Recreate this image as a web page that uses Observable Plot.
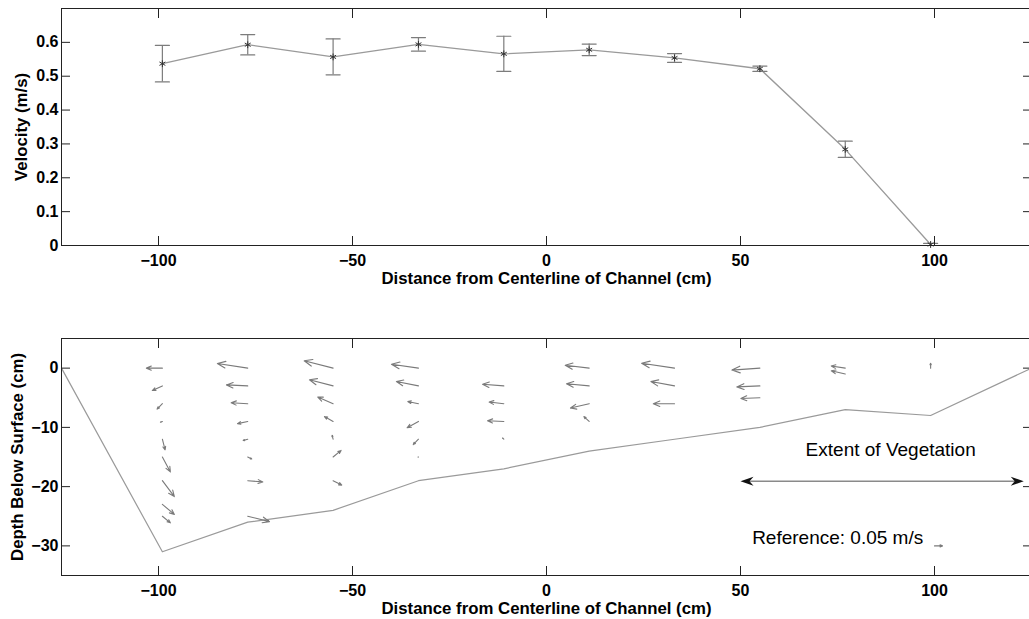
<!DOCTYPE html>
<html>
<head>
<meta charset="utf-8">
<script src="https://cdn.jsdelivr.net/npm/d3@7"></script>
<script src="https://cdn.jsdelivr.net/npm/@observablehq/plot@0.6"></script>
<style>
html, body { margin: 0; padding: 0; background: #fff; overflow: hidden; width: 1029px; height: 619px; }
#chart { width: 1031px; }
#chart svg { display: block; }
</style>
</head>
<body>
<div id="chart"></div>
<script>
// ---------- Top panel: depth-averaged velocity ----------
const stations = [-99, -77, -55, -33, -11, 11, 33, 55, 77, 99];
const velocity = [0.537, 0.593, 0.557, 0.594, 0.566, 0.578, 0.554, 0.522, 0.284, 0.003];
const velocityErr = [0.054, 0.030, 0.053, 0.020, 0.052, 0.017, 0.013, 0.008, 0.024, 0.003];

// ---------- Bottom panel: channel bed profile ----------
const bedX = [-125, -99, -77, -55, -33, -11, 11, 33, 55, 77, 99, 125];
const bedDepth = [0, -31, -26, -24, -19, -17, -14, -12, -10, -7, -8, 0];

// ---------- Bottom panel: velocity vectors (cm/s) ----------
const quiverX = [
  -99, -99, -99, -99, -99, -99, -99, -99, -99,
  -77, -77, -77, -77, -77, -77, -77, -77,
  -55, -55, -55, -55, -55, -55, -55,
  -33, -33, -33, -33, -33, -33,
  -11, -11, -11, -11,
  11, 11, 11, 11,
  33, 33, 33,
  55, 55, 55,
  77, 77,
  99
];
const quiverZ = [
  0, -3, -6, -9, -12, -15, -19, -23, -25,
  0, -3, -6, -9, -12, -15, -19, -25,
  0, -3, -6, -9, -12, -15, -19,
  0, -3, -6, -9, -12, -15,
  -3, -6, -9, -12,
  0, -3, -6, -9,
  0, -3, -6,
  0, -3, -5,
  0, -1,
  0
];
const quiverU = [
  -10, -6.3, -3.3, -1.2, 1.7, 5, 7.5, 7.5, 5,
  -19, -13.3, -10.4, -6.4, -2.9, 2.5, 9.4, 13.6,
  -18.1, -14.8, -9.6, -5.4, -0.6, 5, 5.4,
  -16.9, -13.8, -6.7, -7.1, -3.3, -0.3,
  -13.3, -9.2, -10.2, -0.8,
  -15, -14.2, -11.7, -3.3,
  -20.6, -14.8, -13.3,
  -17.5, -14.4, -11.9,
  -8.75, -8.75,
  0
];
const quiverW = [
  0, -1.9, -2.2, -0.3, -4.4, -6.1, -6.5, -4.1, -2.7,
  1.9, 0.4, 0.4, -0.9, -0.5, -0.8, -0.5, -2.2,
  3.0, 2.5, 2.7, 2.0, 1.6, 2.7, -1.8,
  1.6, 1.8, 0.9, -2.6, -2.2, 0,
  0.7, 0.7, 0.3, 0.5,
  1.2, 0.9, -1.8, 2.0,
  2.0, 1.8, 0,
  -0.8, -0.4, -0.3,
  0.9, 1.35,
  2.0
];
// Reference vector: 0.05 m/s = 5 cm/s
const refVector = {x: 100, z: -30, u: 5, w: 0};
const refLabel = "Reference: 0.05 m/s";
const quiverScale = 0.412; // cm of plot per cm/s

// ---------- Annotation ----------
const vegExtent = [50, 123];
const vegDepth = -19.1;
const vegLabel = "Extent of Vegetation";

// ---------- Axes ----------
const xTicks = [-100, -50, 0, 50, 100];
const velTicks = [0, 0.1, 0.2, 0.3, 0.4, 0.5, 0.6];
const depthTicks = [0, -10, -20, -30];
const xLabel = "Distance from Centerline of Channel (cm)";
const velLabel = "Velocity (m/s)";
const depthLabel = "Depth Below Surface (cm)";

const font = '"Liberation Sans", Arial, Helvetica, sans-serif';
const frameColor = "#222";

function boxAxes(yTicks, yFormat) {
  return [
    Plot.axisX({anchor: "bottom", ticks: xTicks, tickSize: 0, tickPadding: 9, label: null}),
    Plot.axisX({anchor: "bottom", ticks: xTicks, tickSize: -9, fill: "none", stroke: frameColor, label: null}),
    Plot.axisX({anchor: "top", ticks: xTicks, tickSize: -9, fill: "none", stroke: frameColor, label: null}),
    Plot.axisY({anchor: "left", ticks: yTicks, tickSize: 0, tickPadding: 3, tickFormat: yFormat, label: null}),
    Plot.axisY({anchor: "left", ticks: yTicks, tickSize: -9, fill: "none", stroke: frameColor, label: null}),
    Plot.axisY({anchor: "right", ticks: yTicks, tickSize: -9, fill: "none", stroke: frameColor, label: null}),
    Plot.frame({stroke: frameColor, strokeWidth: 1})
  ];
}

const svgStyle = {
  fontFamily: font, fontSize: "16px", fontWeight: "bold", color: "#000",
  background: "#fff", maxWidth: "none", overflow: "visible"
};

const velRows = stations.map((x, i) => ({
  x, v: velocity[i], lo: velocity[i] - velocityErr[i], hi: velocity[i] + velocityErr[i]
}));
const capShape = {draw(ctx, l) { ctx.moveTo(0, 0); ctx.lineTo(0, -l); }};

const topPlot = Plot.plot({
  width: 1031, height: 300,
  marginTop: 8, marginBottom: 55, marginLeft: 61, marginRight: 0,
  style: svgStyle,
  x: {domain: [-125, 125]},
  y: {domain: [0, 0.7]},
  marks: [
    Plot.line(velRows, {x: "x", y: "v", stroke: "#9a9a9a", strokeWidth: 1.3}),
    Plot.ruleX(velRows, {x: "x", y1: "lo", y2: "hi", stroke: "#7c7c7c", strokeWidth: 1.2}),
    Plot.vector(velRows, {x: "x", y: "lo", length: 14, rotate: 90, anchor: "middle", shape: capShape, stroke: "#7c7c7c", strokeWidth: 1.2}),
    Plot.vector(velRows, {x: "x", y: "hi", length: 14, rotate: 90, anchor: "middle", shape: capShape, stroke: "#7c7c7c", strokeWidth: 1.2}),
    Plot.dot(velRows, {x: "x", y: "v", symbol: "asterisk", r: 3.2, stroke: "#333", strokeWidth: 1}),
    ...boxAxes(velTicks, d => d === 0 ? "0" : d.toFixed(1)),
    Plot.text([xLabel], {frameAnchor: "bottom", dy: 33, textAnchor: "middle", lineAnchor: "middle", fontSize: 16.8}),
    Plot.text([velLabel], {frameAnchor: "left", rotate: -90, dx: -40, textAnchor: "middle", lineAnchor: "middle", fontSize: 16.8})
  ]
});

const bedRows = bedX.map((x, i) => ({x, z: bedDepth[i]}));
const quiverRows = quiverX.map((x, i) => ({x, z: quiverZ[i], u: quiverU[i], w: quiverW[i]}));
const tipX = d => d.x + d.u * quiverScale;
const tipZ = d => d.z + d.w * quiverScale;

const vHead = {draw(ctx) {
  ctx.moveTo(0, 0); ctx.lineTo(-13, -4.5); ctx.lineTo(-9, 0); ctx.lineTo(-13, 4.5); ctx.closePath();
}};

const bottomPlot = Plot.plot({
  width: 1031, height: 319,
  marginTop: 38, marginBottom: 44, marginLeft: 61, marginRight: 0,
  style: svgStyle,
  x: {domain: [-125, 125]},
  y: {domain: [-35, 5]},
  marks: [
    Plot.line(bedRows, {x: "x", y: "z", stroke: "#9a9a9a", strokeWidth: 1.2}),
    Plot.arrow(quiverRows, {x1: "x", y1: "z", x2: tipX, y2: tipZ, stroke: "#7a7a7a", strokeWidth: 1.1, headLength: 12, headAngle: 45}),
    Plot.arrow([refVector], {x1: "x", y1: "z", x2: tipX, y2: tipZ, stroke: "#7a7a7a", strokeWidth: 1.1, headLength: 12, headAngle: 45}),
    Plot.ruleY([vegDepth], {x1: vegExtent[0] + 1, x2: vegExtent[1] - 1, stroke: "#8a8a8a", strokeWidth: 1.4}),
    Plot.dot([vegExtent[1]], {x: d => d, y: vegDepth, symbol: vHead, fill: "#111", stroke: "none", rotate: 0}),
    Plot.dot([vegExtent[0]], {x: d => d, y: vegDepth, symbol: vHead, fill: "#111", stroke: "none", rotate: 180}),
    Plot.text([vegLabel], {x: 88.7, y: -13.75, fontSize: 19, fontWeight: "normal"}),
    Plot.text([refLabel], {x: 53, y: -28.6, textAnchor: "start", fontSize: 19, fontWeight: "normal"}),
    ...boxAxes(depthTicks),
    Plot.text([xLabel], {frameAnchor: "bottom", dy: 33, textAnchor: "middle", lineAnchor: "middle", fontSize: 16.8}),
    Plot.text([depthLabel], {frameAnchor: "left", rotate: -90, dx: -43.5, textAnchor: "middle", lineAnchor: "middle", fontSize: 16.8})
  ]
});

const chart = document.getElementById("chart");
chart.append(topPlot, bottomPlot);
</script>
</body>
</html>
